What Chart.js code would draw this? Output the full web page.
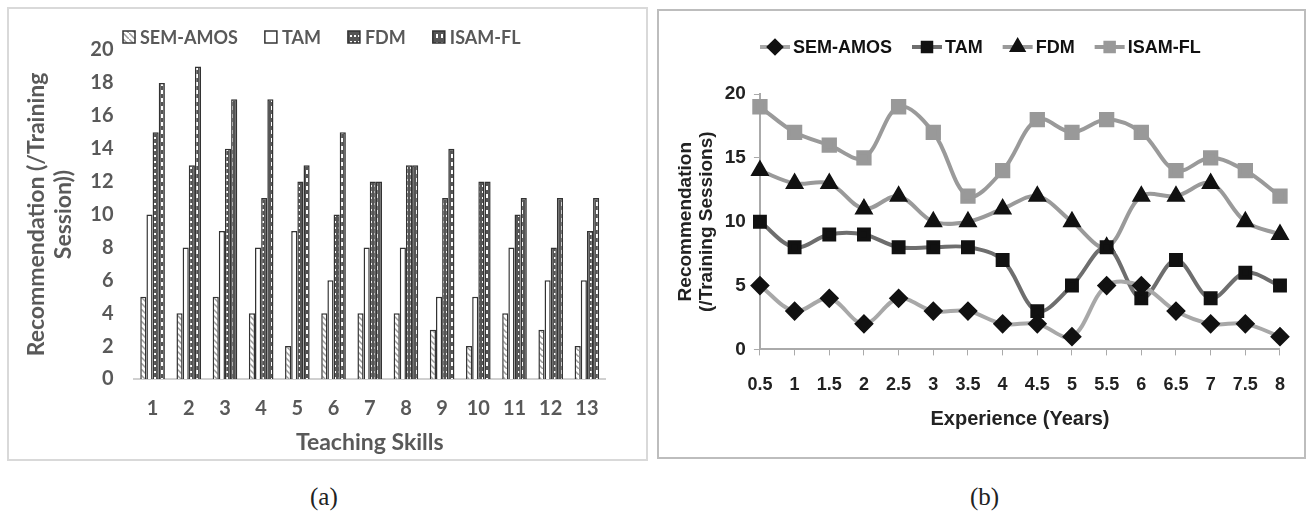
<!DOCTYPE html>
<html>
<head>
<meta charset="utf-8">
<script src="https://cdn.jsdelivr.net/npm/chart.js@4.4.0/dist/chart.umd.min.js"></script>
<style>
  body { margin: 0; background: #fff; width: 1311px; height: 526px; position: relative; overflow: hidden; }
  .panel { position: absolute; box-sizing: border-box; background: #fff; }
  #panelA { left: 7px; top: 7px; width: 641px; height: 454px; border: 2px solid #d9d9d9; }
  #panelB { left: 657px; top: 9px; width: 649px; height: 450px; border: 2px solid #bdbdbd; }
  .caption { position: absolute; top: 483px; font: 25px "Liberation Serif", serif; color: #222; }
</style>
</head>
<body>
<div class="panel" id="panelA"><canvas id="chartA"></canvas></div>
<div class="panel" id="panelB"><canvas id="chartB"></canvas></div>
<div class="caption" style="left:310px">(a)</div>
<div class="caption" style="left:970px">(b)</div>
<script>
// (a) Teaching Skills
const skillLabels = ["1", "2", "3", "4", "5", "6", "7", "8", "9", "10", "11", "12", "13"];
const semAmosA = [5, 4, 5, 4, 2, 4, 4, 4, 3, 2, 4, 3, 2];
const tamA = [10, 8, 9, 8, 9, 6, 8, 8, 5, 5, 8, 6, 6];
const fdmA = [15, 13, 14, 11, 12, 10, 12, 13, 11, 12, 10, 8, 9];
const isamA = [18, 19, 17, 17, 13, 15, 12, 13, 14, 12, 11, 11, 11];

// (b) Experience
const yearLabels = ["0.5", "1", "1.5", "2", "2.5", "3", "3.5", "4", "4.5", "5", "5.5", "6", "6.5", "7", "7.5", "8"];
const semAmosB = [5, 3, 4, 2, 4, 3, 3, 2, 2, 1, 5, 5, 3, 2, 2, 1];
const tamB = [10, 8, 9, 9, 8, 8, 8, 7, 3, 5, 8, 4, 7, 4, 6, 5];
const fdmB = [14, 13, 13, 11, 12, 10, 10, 11, 12, 10, 8, 12, 12, 13, 10, 9];
const isamB = [19, 17, 16, 15, 19, 17, 12, 14, 18, 17, 18, 17, 14, 15, 14, 12];

// motifs des barres (style Excel)
function makePattern(kind) {
  const c = document.createElement("canvas");
  const g = c.getContext("2d");
  if (kind === "diag") {
    c.width = 6; c.height = 6;
    g.fillStyle = "#fff"; g.fillRect(0, 0, 6, 6);
    g.strokeStyle = "#9a9a9a"; g.lineWidth = 1.5;
    g.beginPath(); g.moveTo(0, 0); g.lineTo(6, 6); g.stroke();
  } else if (kind === "dots") {
    c.width = 4; c.height = 6;
    g.fillStyle = "#555"; g.fillRect(0, 0, 4, 6);
    g.fillStyle = "#fff"; g.fillRect(1, 2, 2, 2);
  } else if (kind === "dash") {
    c.width = 5; c.height = 8;
    g.fillStyle = "#555"; g.fillRect(0, 0, 5, 8);
    g.fillStyle = "#fff"; g.fillRect(2, 1, 2, 4);
  } else {
    c.width = 4; c.height = 4;
    g.fillStyle = "#fff"; g.fillRect(0, 0, 4, 4);
  }
  return g.createPattern(c, "repeat");
}

const grey = "#595959";
const fontA = "Lato, 'Open Sans', sans-serif";

function barSet(label, data, pattern) {
  return {
    label: label,
    data: data,
    backgroundColor: pattern,
    borderColor: "#333",
    borderWidth: 1.5,
    barPercentage: 1,
    categoryPercentage: 0.68,
  };
}

// légende à cases pour (a)
const boxLegend = {
  id: "boxLegend",
  afterDraw(chart) {
    const ctx = chart.ctx;
    ctx.save();
    ctx.font = "bold 18px " + fontA;
    ctx.textBaseline = "middle";
    let x = 114;
    const y = 28;
    chart.data.datasets.forEach((ds) => {
      ctx.fillStyle = ds.backgroundColor;
      ctx.fillRect(x, y - 6, 12, 12);
      ctx.strokeStyle = "#333";
      ctx.lineWidth = 1.5;
      ctx.strokeRect(x, y - 6, 12, 12);
      ctx.fillStyle = grey;
      ctx.fillText(ds.label, x + 17, y + 1);
      x += 17 + ctx.measureText(ds.label).width + 27;
    });
    ctx.restore();
  },
};

new Chart(document.getElementById("chartA").getContext("2d"), {
  type: "bar",
  data: {
    labels: skillLabels,
    datasets: [
      barSet("SEM-AMOS", semAmosA, makePattern("diag")),
      barSet("TAM", tamA, makePattern("plain")),
      barSet("FDM", fdmA, makePattern("dots")),
      barSet("ISAM-FL", isamA, makePattern("dash")),
    ],
  },
  options: {
    responsive: true,
    maintainAspectRatio: false,
    animation: false,
    layout: { padding: { left: 14, right: 41, top: 41, bottom: 5 } },
    plugins: { tooltip: { enabled: false }, legend: { display: false } },
    scales: {
      x: {
        grid: { display: false },
        border: { color: "#d0d0d0", width: 2 },
        ticks: { color: grey, font: { family: fontA, size: 20, weight: "bold" }, padding: 10 },
        title: {
          display: true,
          text: "Teaching Skills",
          color: grey,
          font: { family: fontA, size: 23, weight: "bold", lineHeight: 1.0 },
          padding: { top: 0, bottom: 0 },
        },
      },
      y: {
        min: 0,
        max: 20,
        ticks: { stepSize: 2, color: grey, font: { family: fontA, size: 20, weight: "bold" }, padding: 13 },
        grid: { display: false },
        border: { display: false },
        title: {
          display: true,
          text: ["Recommendation (/Training", "Session))"],
          color: grey,
          font: { family: fontA, size: 23, weight: "bold", lineHeight: 1.18 },
          padding: { top: 0, bottom: 0 },
        },
      },
    },
  },
  plugins: [boxLegend],
});

const fontB = "'Liberation Sans', Arial, sans-serif";

// légende ligne + marqueur pour (b)
const lineLegend = {
  id: "lineLegend",
  afterDraw(chart) {
    const ctx = chart.ctx;
    ctx.save();
    ctx.font = "bold 18px " + fontB;
    ctx.textBaseline = "middle";
    let x = 101;
    const y = 36;
    chart.data.datasets.forEach((ds) => {
      ctx.strokeStyle = ds.borderColor;
      ctx.lineWidth = 4;
      ctx.beginPath(); ctx.moveTo(x, y); ctx.lineTo(x + 30, y); ctx.stroke();
      ctx.fillStyle = ds.pointBackgroundColor;
      ctx.strokeStyle = ds.pointBackgroundColor;
      Chart.helpers.drawPoint(ctx, { pointStyle: ds.pointStyle, radius: 6, borderWidth: 1 }, x + 15, y);
      ctx.fillStyle = "#111";
      ctx.fillText(ds.label, x + 33, y + 1);
      x += 33 + ctx.measureText(ds.label).width + 20;
    });
    ctx.restore();
  },
};

function lineSet(label, data, lineColor, markColor, style, radius) {
  return {
    label: label,
    data: data,
    borderColor: lineColor,
    borderWidth: 4,
    tension: 0.35,
    pointStyle: style,
    pointRadius: radius,
    pointBackgroundColor: markColor,
    pointBorderColor: markColor,
  };
}

new Chart(document.getElementById("chartB").getContext("2d"), {
  type: "line",
  data: {
    labels: yearLabels,
    datasets: [
      lineSet("SEM-AMOS", semAmosB, "#a8a8a8", "#111", "rectRot", 7),
      lineSet("TAM", tamB, "#6e6e6e", "#111", "rect", 7),
      lineSet("FDM", fdmB, "#9a9a9a", "#111", "triangle", 7),
      lineSet("ISAM-FL", isamB, "#9a9a9a", "#999", "rect", 8),
    ],
  },
  options: {
    responsive: true,
    maintainAspectRatio: false,
    animation: false,
    layout: { padding: { left: 16, right: 22, top: 83, bottom: 30 } },
    plugins: { legend: { display: false }, tooltip: { enabled: false } },
    scales: {
      x: {
        offset: false,
        grid: { drawOnChartArea: false, drawTicks: true, tickLength: 6, color: "#aaa" },
        border: { color: "#aaa", width: 2 },
        ticks: { color: "#222", font: { family: fontB, size: 18, weight: "bold" }, padding: 19, maxRotation: 0, autoSkip: false },
        title: {
          display: true,
          text: "Experience (Years)",
          color: "#222",
          font: { family: fontB, size: 20, weight: "bold", lineHeight: 0.4 },
          padding: { top: 0 },
        },
      },
      y: {
        min: 0,
        max: 20,
        ticks: { stepSize: 5, color: "#222", font: { family: fontB, size: 19, weight: "bold" }, padding: 8 },
        grid: { drawOnChartArea: false, drawTicks: true, tickLength: 6, color: "#aaa" },
        border: { color: "#aaa", width: 2 },
        title: {
          display: true,
          text: ["Recommendation", "(/Training Sessions)"],
          color: "#222",
          font: { family: fontB, size: 19, weight: "bold", lineHeight: 1.1 },
          padding: { top: 0, bottom: 0 },
        },
      },
    },
  },
  plugins: [lineLegend],
});
</script>
</body>
</html>
